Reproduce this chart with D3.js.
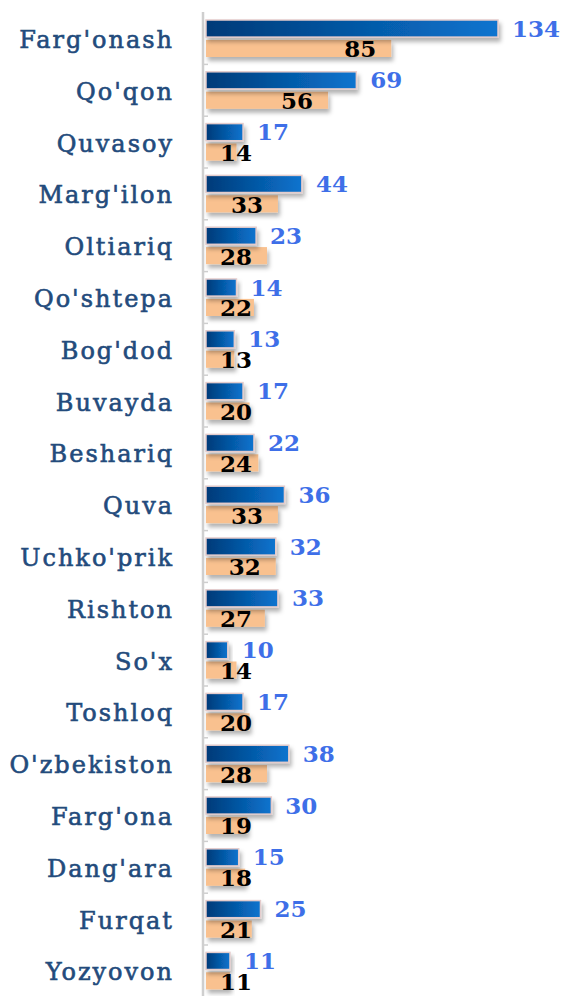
<!DOCTYPE html>
<html>
<head>
<meta charset="utf-8">
<script src="https://cdn.jsdelivr.net/npm/d3@7"></script>
<style>
  html, body { margin: 0; padding: 0; background: #fff; }
  .cat-label { font-family: "DejaVu Serif", serif; font-size: 24px; fill: #234b7c; stroke: #234b7c; stroke-width: 0.6px; letter-spacing: 2px; }
  .val-blue { font-family: "DejaVu Serif", serif; font-weight: bold; font-size: 23px; fill: #3e6fe8; }
  .val-orange { font-family: "DejaVu Serif", serif; font-weight: bold; font-size: 23px; fill: #000; }
</style>
</head>
<body>
<div id="chart"></div>
<script>
const categories = ["Farg'onash", "Qo'qon", "Quvasoy", "Marg'ilon", "Oltiariq", "Qo'shtepa", "Bog'dod",
  "Buvayda", "Beshariq", "Quva", "Uchko'prik", "Rishton", "So'x", "Toshloq", "O'zbekiston",
  "Farg'ona", "Dang'ara", "Furqat", "Yozyovon"];
const seriesA = [134, 69, 17, 44, 23, 14, 13, 17, 22, 36, 32, 33, 10, 17, 38, 30, 15, 25, 11];
const seriesB = [85, 56, 14, 33, 28, 22, 13, 20, 24, 33, 32, 27, 14, 20, 28, 19, 18, 21, 11];

const width = 563;
const height = 996;
const axisX = 203;

const svg = d3.select("#chart").append("svg")
  .attr("width", width)
  .attr("height", height);

const defs = svg.append("defs");

const grad = defs.append("linearGradient")
  .attr("id", "blueGrad")
  .attr("x1", "0%").attr("x2", "100%").attr("y1", "0%").attr("y2", "0%");
grad.append("stop").attr("offset", "0%").attr("stop-color", "#003a78");
grad.append("stop").attr("offset", "100%").attr("stop-color", "#0a74cf");

const shadow = defs.append("filter")
  .attr("id", "shadow")
  .attr("x", "-10%").attr("y", "-30%").attr("width", "130%").attr("height", "190%");
shadow.append("feDropShadow")
  .attr("dx", 2).attr("dy", 4)
  .attr("stdDeviation", 2)
  .attr("flood-color", "#000")
  .attr("flood-opacity", 0.3);

const x = d3.scaleLinear()
  .domain([0, 134])
  .range([206, 498]);

const y = d3.scaleBand()
  .domain(categories)
  .range([12.6, 12.6 + 51.8 * categories.length])
  .padding(0);

const ySub = d3.scaleBand()
  .domain(["a", "b"])
  .range([-18.5, 18.5])
  .paddingInner(0.14);

const rows = categories.map((c, i) => ({ cat: c, a: seriesA[i], b: seriesB[i] }));

// axis line + small ticks at band edges
svg.append("line")
  .attr("x1", axisX).attr("x2", axisX)
  .attr("y1", 12).attr("y2", height)
  .attr("stroke", "#cfcfcf")
  .attr("stroke-width", 2.5);

svg.selectAll(".tick-mark")
  .data(categories.slice(1))
  .enter()
  .append("line")
  .attr("class", "tick-mark")
  .attr("x1", axisX).attr("x2", axisX + 5)
  .attr("y1", d => y(d)).attr("y2", d => y(d))
  .attr("stroke", "#cfcfcf")
  .attr("stroke-width", 1.5);

const row = svg.selectAll(".row")
  .data(rows)
  .enter()
  .append("g")
  .attr("class", "row")
  .attr("transform", d => `translate(0,${y(d.cat) + y.bandwidth() / 2})`);

// orange bars
row.append("rect")
  .attr("x", x(0))
  .attr("y", ySub("b"))
  .attr("width", d => x(d.b) - x(0))
  .attr("height", ySub.bandwidth())
  .attr("fill", "#f9c18f")
  .attr("filter", "url(#shadow)");

// blue bars
row.append("rect")
  .attr("x", x(0))
  .attr("y", ySub("a"))
  .attr("width", d => x(d.a) - x(0))
  .attr("height", ySub.bandwidth())
  .attr("fill", "url(#blueGrad)")
  .attr("stroke", "#e4cccc")
  .attr("stroke-width", 1.5)
  .attr("filter", "url(#shadow)");

// category labels
row.append("text")
  .attr("class", "cat-label")
  .attr("x", 174)
  .attr("y", 9.5)
  .attr("text-anchor", "end")
  .text(d => d.cat);

// blue value labels
row.append("text")
  .attr("class", "val-blue")
  .attr("x", d => x(d.a) + 14)
  .attr("y", ySub("a") + ySub.bandwidth() / 2 + 8)
  .text(d => d.a);

// orange value labels
row.append("text")
  .attr("class", "val-orange")
  .attr("x", d => Math.max(220, x(d.b) - 47))
  .attr("y", ySub("b") + ySub.bandwidth() / 2 + 9)
  .text(d => d.b);
</script>
</body>
</html>
